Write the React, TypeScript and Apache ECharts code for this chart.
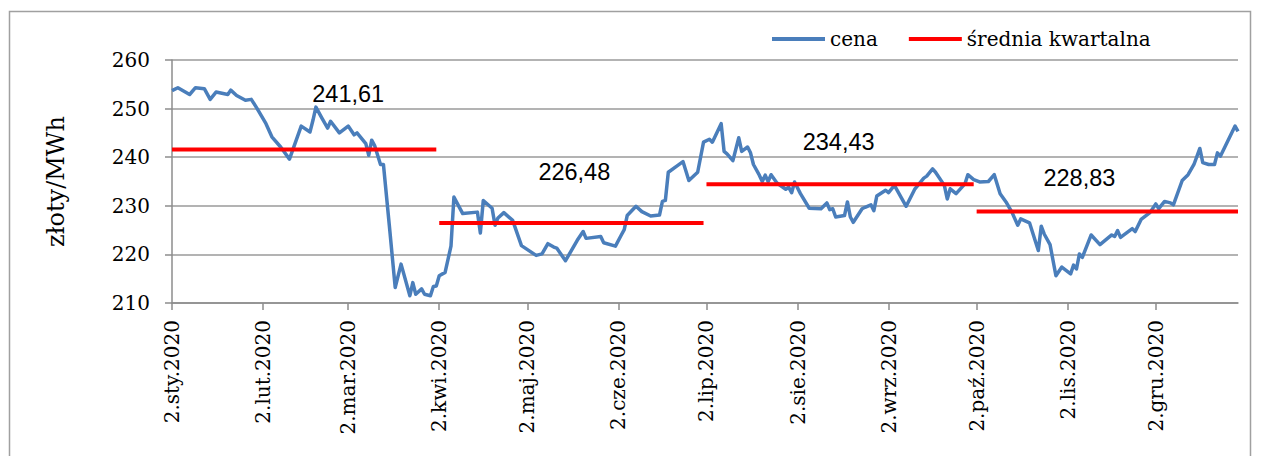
import React, { useEffect, useRef } from "react";
import * as echarts from "echarts";

// ---- data ----
const MONTHS = ["sty", "lut", "mar", "kwi", "maj", "cze", "lip", "sie", "wrz", "paź", "lis", "gru"];
const YEAR = 2020;
const FIRST_DAY = "01-02";
const LAST_DAY = "12-30";

const priceDates = [
  "01-02", "01-04", "01-08", "01-10", "01-13", "01-15", "01-17", "01-21", "01-22", "01-24",
  "01-27", "01-29", "01-31", "02-03", "02-05", "02-08", "02-11", "02-15", "02-18", "02-19",
  "02-20", "02-22", "02-24", "02-25", "02-28", "03-02", "03-04", "03-05", "03-08", "03-09",
  "03-10", "03-11", "03-13", "03-14", "03-16", "03-18", "03-20", "03-23", "03-24", "03-25",
  "03-27", "03-28", "03-30", "03-31", "04-01", "04-02", "04-04", "04-06", "04-07", "04-10",
  "04-15", "04-16", "04-17", "04-20", "04-21", "04-22", "04-24", "04-27", "04-30", "05-05",
  "05-07", "05-09", "05-11", "05-12", "05-15", "05-19", "05-21", "05-22", "05-27", "05-28",
  "06-01", "06-03", "06-04", "06-05", "06-08", "06-10", "06-13", "06-16", "06-17", "06-18",
  "06-19", "06-22", "06-24", "06-26", "06-29", "07-01", "07-03", "07-04", "07-07", "07-08",
  "07-09", "07-11", "07-13", "07-14", "07-16", "07-17", "07-18", "07-20", "07-21", "07-22",
  "07-23", "07-24", "07-26", "07-29", "07-30", "07-31", "08-01", "08-03", "08-06", "08-10",
  "08-12", "08-13", "08-14", "08-15", "08-18", "08-19", "08-20", "08-21", "08-24", "08-25",
  "08-27", "08-28", "08-29", "09-01", "09-02", "09-04", "09-08", "09-11", "09-14", "09-15",
  "09-17", "09-18", "09-21", "09-22", "09-23", "09-25", "09-28", "09-29", "10-01", "10-03",
  "10-06", "10-08", "10-10", "10-12", "10-14", "10-16", "10-17", "10-20", "10-21", "10-23",
  "10-24", "10-25", "10-27", "10-29", "10-31", "11-03", "11-04", "11-05", "11-06", "11-07",
  "11-10", "11-13", "11-17", "11-18", "11-19", "11-20", "11-24", "11-25", "11-27", "11-30",
  "12-02", "12-03", "12-05", "12-07", "12-08", "12-11", "12-13", "12-15", "12-17", "12-18",
  "12-20", "12-22", "12-23", "12-24", "12-29", "12-30",
];

const priceValues = [
  253.7, 254.3, 252.9, 254.3, 254.1, 251.9, 253.4, 252.9, 253.8, 252.7,
  251.7, 251.9, 250.0, 246.9, 244.2, 242.1, 239.6, 246.4, 245.2, 247.6,
  250.3, 248.1, 246.0, 247.4, 245.0, 246.4, 244.6, 245.0, 242.8, 240.4,
  243.5, 242.4, 238.5, 238.5, 226.0, 213.2, 218.0, 211.5, 214.2, 211.8,
  212.9, 211.8, 211.5, 213.4, 213.5, 215.6, 216.3, 221.7, 231.8, 228.4,
  228.7, 224.4, 231.1, 229.5, 226.0, 227.5, 228.6, 227.0, 221.8, 219.8,
  220.1, 222.2, 221.5, 221.3, 218.7, 222.9, 224.7, 223.3, 223.7, 222.4,
  221.7, 224.0, 225.1, 228.0, 229.9, 228.8, 227.9, 228.1, 230.9, 231.1,
  236.9, 238.2, 239.1, 235.2, 236.9, 243.1, 243.7, 243.1, 246.9, 241.2,
  240.7, 239.3, 244.0, 241.2, 242.1, 240.9, 238.5, 236.3, 235.0, 236.3,
  235.0, 236.4, 234.7, 233.4, 233.8, 232.7, 234.9, 232.5, 229.5, 229.4,
  230.6, 229.2, 229.4, 227.7, 228.0, 230.8, 227.7, 226.6, 229.4, 229.7,
  230.2, 229.0, 232.0, 233.2, 232.7, 234.2, 229.9, 233.5, 235.7, 236.1,
  237.6, 236.9, 234.2, 231.4, 233.5, 232.5, 234.5, 236.4, 235.4, 234.9,
  235.0, 236.4, 232.5, 230.8, 228.7, 226.0, 227.3, 226.5, 224.6, 220.8,
  225.8, 224.2, 222.0, 215.6, 217.4, 216.0, 217.8, 217.0, 220.1, 219.4,
  224.0, 222.0, 224.0, 223.7, 224.9, 223.5, 225.3, 224.7, 227.2, 228.6,
  230.4, 229.4, 230.9, 230.6, 230.2, 235.2, 236.4, 238.5, 241.8, 238.9,
  238.5, 238.5, 240.9, 240.2, 246.4, 245.3,
];

const quarterStarts = ["01-02", "04-02", "07-02", "10-02"];
const quarterEnds = ["04-01", "07-01", "10-01", "12-30"];
const quarterAverages = [241.61, 226.48, 234.43, 228.83];
const quarterLabelDates = ["03-02", "05-18", "08-16", "11-06"];

// ---- styling ----
const BLUE = "#4a7ebb";
const RED = "#ff0000";
const SERIF = "DejaVu Serif";
const labelLift = [55, 51, 42, 33];

const pad = (n: number) => (n < 10 ? "0" + n : "" + n);

function buildCategories(): string[] {
  const out: string[] = [];
  const [fm, fd] = FIRST_DAY.split("-").map(Number);
  const [lm, ld] = LAST_DAY.split("-").map(Number);
  const end = Date.UTC(YEAR, lm - 1, ld);
  for (let t = Date.UTC(YEAR, fm - 1, fd); t <= end; t += 86400000) {
    const d = new Date(t);
    out.push(pad(d.getUTCMonth() + 1) + "-" + pad(d.getUTCDate()));
  }
  return out;
}

function buildOption() {
  const categories = buildCategories();
  const index = new Map<string, number>();
  categories.forEach((c, i) => index.set(c, i));

  const priceData: (number | null)[] = categories.map(() => null);
  priceDates.forEach((d, i) => {
    const k = index.get(d);
    if (k !== undefined) priceData[k] = priceValues[i];
  });

  const fmt = (v: number) => v.toFixed(2).replace(".", ",");

  const quarterSeries = quarterAverages.map((avg, q) => ({
    name: "średnia kwartalna",
    type: "line",
    data: categories.map((c) => (c >= quarterStarts[q] && c <= quarterEnds[q] ? avg : null)),
    showSymbol: false,
    symbol: "none",
    connectNulls: false,
    lineStyle: { color: RED, width: 4, cap: "butt" },
    itemStyle: { color: RED },
    z: 3,
    silent: true,
    markPoint: {
      symbol: "rect",
      symbolSize: 1,
      silent: true,
      itemStyle: { color: "rgba(0,0,0,0)" },
      label: {
        show: true,
        position: "inside",
        offset: [0, -labelLift[q]],
        formatter: () => fmt(avg),
        color: "#000",
        fontFamily: "Liberation Sans",
        fontSize: 23.5,
      },
      data: [{ coord: [quarterLabelDates[q], avg], value: avg }],
    },
  }));

  const dayLabel = (c: string) => {
    const [m, d] = c.split("-").map(Number);
    return `${d}.${MONTHS[m - 1]}.${YEAR}`;
  };
  const isTickDay = (_i: number, c: string) => c.endsWith("-02");

  return {
    animation: false,
    backgroundColor: "#ffffff",
    textStyle: { fontFamily: SERIF },
    graphic: [
      {
        type: "rect",
        shape: { x: 9.5, y: 11.5, width: 1241, height: 470 },
        style: { fill: "none", stroke: "#a0a0a0", lineWidth: 1.5 },
        silent: true,
        z: -10,
      },
    ],
    legend: {
      left: 767,
      top: 24,
      icon: "rect",
      itemWidth: 53,
      itemHeight: 4,
      itemGap: 31,
      data: [
        { name: "cena", itemStyle: { color: BLUE } },
        { name: "średnia kwartalna", itemStyle: { color: RED } },
      ],
      textStyle: { fontFamily: SERIF, fontSize: 20, color: "#000", padding: [0, 0, 0, 0] },
    },
    grid: { left: 172, right: 46, top: 60, bottom: 153, containLabel: false },
    xAxis: {
      type: "category",
      data: categories,
      boundaryGap: false,
      axisLine: { show: true, lineStyle: { color: "#8c8c8c", width: 1.5 } },
      axisTick: { show: true, interval: isTickDay, length: 7, lineStyle: { color: "#8c8c8c", width: 1.5 } },
      axisLabel: {
        interval: isTickDay,
        rotate: 90,
        margin: 17,
        formatter: dayLabel,
        fontFamily: SERIF,
        fontSize: 20,
        color: "#000",
      },
      splitLine: { show: false },
    },
    yAxis: {
      type: "value",
      min: 210,
      max: 260,
      interval: 10,
      name: "złoty/MWh",
      nameLocation: "middle",
      nameGap: 104,
      nameRotate: 90,
      nameTextStyle: { fontFamily: SERIF, fontSize: 24, color: "#000" },
      axisLine: { show: true, lineStyle: { color: "#8c8c8c", width: 1.5 } },
      axisTick: { show: true, length: 7, lineStyle: { color: "#8c8c8c", width: 1.5 } },
      axisLabel: { margin: 22, fontFamily: SERIF, fontSize: 20, color: "#000" },
      splitLine: { show: true, lineStyle: { color: "#9a9a9a", width: 1.5 } },
    },
    series: [
      {
        name: "cena",
        type: "line",
        data: priceData,
        connectNulls: true,
        showSymbol: false,
        symbol: "none",
        lineStyle: { color: BLUE, width: 3.5, join: "round" },
        itemStyle: { color: BLUE },
        z: 2,
        silent: true,
      },
      ...quarterSeries,
    ],
  };
}

export default function App() {
  const ref = useRef<HTMLDivElement>(null);
  useEffect(() => {
    if (!ref.current) return;
    const chart = echarts.init(ref.current, null, { renderer: "svg" });
    chart.setOption(buildOption() as any);
    return () => chart.dispose();
  }, []);
  return (
    <div
      ref={ref}
      style={{ position: "absolute", left: 0, top: 0, width: 1284, height: 456, background: "#fff" }}
    />
  );
}
